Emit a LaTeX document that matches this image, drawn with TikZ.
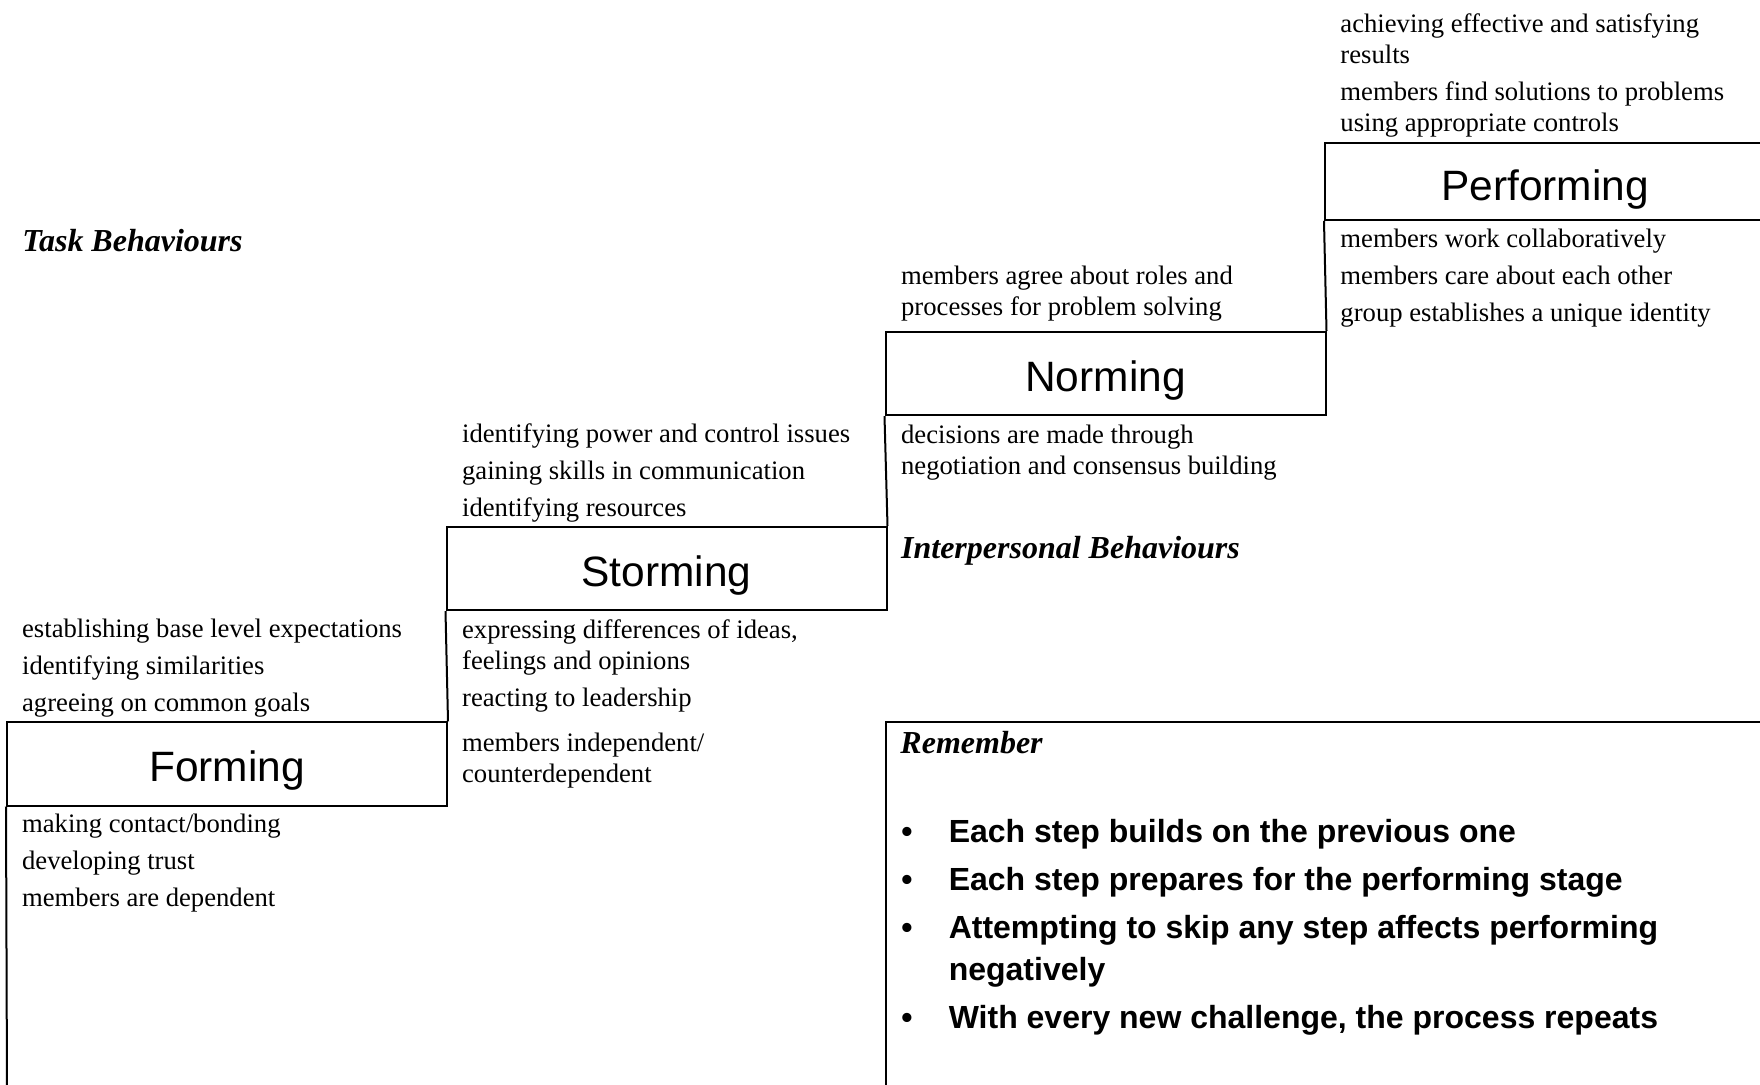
\documentclass[tikz,border=0pt]{standalone}
\usepackage{fontspec}
\setmainfont{Liberation Serif}
\newfontfamily\stagefont{Liberation Sans}
\newcommand\notelines[1]{\begin{tabular}[t]{@{}l@{}}#1\end{tabular}}

\tikzset{
  stage/.style={draw, line width=0.9pt, minimum width=198pt, minimum height=37.4pt,
    inner sep=0pt, text height=16pt, text depth=0pt,
    font=\stagefont\fontsize{19.1}{21}\selectfont},
  stair/.style={line width=0.9pt},
  notes/.style={anchor=base west, inner sep=0pt,
    font=\fontsize{12}{13.8}\selectfont},
  heading/.style={anchor=base west, inner sep=0pt,
    font=\fontsize{14.4}{16}\selectfont\bfseries\itshape},
  rules/.style={anchor=base west, inner sep=0pt,
    font=\stagefont\bfseries\fontsize{14.4}{19.2}\selectfont},
}

\begin{document}
\begin{tikzpicture}[x=0.45pt,y=-0.45pt]
  \useasboundingbox (0,0) rectangle (1760,1085);
  \clip (0,0) rectangle (1760,1085);

  % the four steps
  \node[stage] (forming)    at (227,764)    {Forming};
  \node[stage] (storming)   at (666.5,568.5) {Storming};
  \node[stage] (norming)    at (1105.5,373.5) {Norming};
  \node[stage, minimum height=34.6pt, text height=17.4pt] (performing) at (1545,181.5) {Performing};

  % risers between the steps
  \coordinate (floor) at (7,1090);
  \draw[stair] (forming.south west) -- (floor);
  \draw[stair] (storming.south west) -- (forming.north east);
  \draw[stair] (norming.south west) -- (storming.north east);
  \draw[stair] (performing.south west) -- (norming.north east);

  % remember panel
  \node[draw, line width=0.9pt, anchor=north west, minimum width=400pt, minimum height=200pt]
    (panel) at (norming.west |- forming.north) {};

  % side headings
  \node[heading] (task) at (22,251.7) {Task Behaviours};
  \node[heading] (inter) at (900.7,558.3) {Interpersonal Behaviours};
  \node[heading] (remember) at (900,753.3) {Remember};

  % task side (above each step)
  \node[notes] (formtask) at (21.7,638) {\notelines{establishing base level expectations\\[2.8pt]
    identifying similarities\\[2.8pt] agreeing on common goals}};
  \node[notes] (stormtask) at (461.7,442.6) {\notelines{identifying power and control issues\\[2.8pt]
    gaining skills in communication\\[2.8pt] identifying resources}};
  \node[notes] (normtask) at (900.7,284.4) {\notelines{members agree about roles and\\
    processes for problem solving}};
  \node[notes] (perftask) at (1340,33) {\notelines{achieving effective and satisfying\\ results\\[2.8pt]
    members find solutions to problems\\ using appropriate controls}};

  % interpersonal side (below each step)
  \node[notes] (formpeople) at (21.7,832.7) {\notelines{making contact/bonding\\[2.8pt]
    developing trust\\[2.8pt] members are dependent}};
  \node[notes] (stormpeople) at (461.7,639) {\notelines{expressing differences of ideas,\\
    feelings and opinions\\[2.8pt] reacting to leadership\\[6.4pt]
    members independent/\\ counterdependent}};
  \node[notes] (normpeople) at (900.7,444) {\notelines{decisions are made through\\
    negotiation and consensus building}};
  \node[notes] (perfpeople) at (1340,247.8) {\notelines{members work collaboratively\\[2.8pt]
    members care about each other\\[2.8pt] group establishes a unique identity}};

  % the points to remember
  \node[rules] (points) at (901,843) {%
    \begin{tabular}[t]{@{}p{21.3pt}@{}l@{}}
      \textbullet & Each step builds on the previous one\\[2.2pt]
      \textbullet & Each step prepares for the performing stage\\[2.2pt]
      \textbullet & Attempting to skip any step affects performing\\
                  & negatively\\[2.4pt]
      \textbullet & With every new challenge, the process repeats
    \end{tabular}};
\end{tikzpicture}
\end{document}
